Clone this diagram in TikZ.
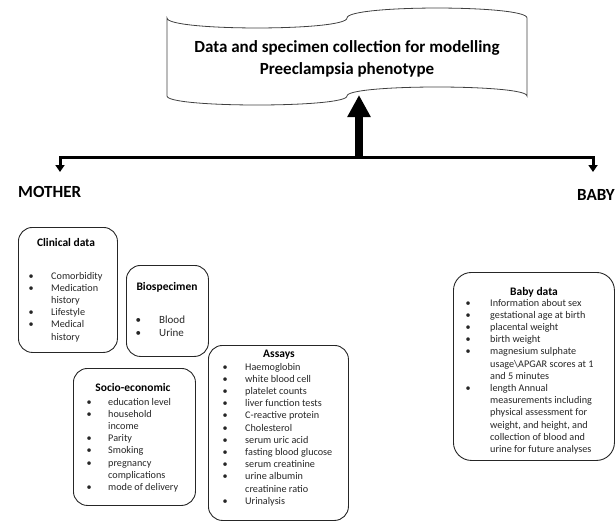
\documentclass[tikz,border=0pt]{standalone}
\usepackage{fontspec}
\setmainfont{Carlito}
\usetikzlibrary{arrows.meta}
\definecolor{txt}{gray}{0.15}
\tikzset{
  box/.style={draw=black!85, line width=0.9pt, rounded corners=14pt, inner sep=0pt, anchor=north west},
  ttl/.style={font=\fontsize{11.5}{14}\selectfont\bfseries, anchor=base, inner sep=0pt},
  lst/.style={font=\fontsize{10.2}{12.2}\selectfont, text=txt, anchor=base west, inner sep=0pt},
  lstb/.style={font=\fontsize{11}{13}\selectfont, text=txt, anchor=base west, inner sep=0pt},
  big/.style={font=\fontsize{17}{20}\selectfont\bfseries, anchor=base west, inner sep=0pt},
  scroll/.style={draw=black!75, line width=0.8pt},
  hline/.style={line width=3pt, line join=miter, {Triangle[width=9pt,length=7pt]}-{Triangle[width=9pt,length=7pt]}},
  uparrow/.style={line width=8pt, -{Triangle[width=22pt,length=22pt]}},
}
\newcommand{\bu}[1]{\makebox[#1][l]{•}}
\newcommand{\ind}[1]{\hspace*{#1}}
\begin{document}
\begin{tikzpicture}[x=1pt,y=-1pt]
\useasboundingbox (0,0) rectangle (615,522);
% scroll
\draw[scroll] (167,18) .. controls (167,31.3) and (347,31.3) .. (347,18)
  .. controls (347,4.7) and (527,4.7) .. (527,18) -- (527,96)
  .. controls (527,84) and (347,84) .. (347,96)
  .. controls (347,108) and (167,108) .. (167,96) -- cycle;
\node[font=\fontsize{17}{22}\selectfont\bfseries, align=center, inner sep=0pt] (title) at (347,58.5)
  {Data and specimen collection for modelling\\Preeclampsia phenotype};
% arrows
\coordinate (stem) at (359,157);
\coordinate (tip) at (359,95);
\draw[uparrow] (stem) -- (tip);
\coordinate (mtip) at (60,172);
\coordinate (ml) at (60,157);
\coordinate (mr) at (593,157);
\coordinate (btip) at (593,172);
\draw[hline] (mtip) -- (ml) -- (mr) -- (btip);
\node[big] (mother) at (18,197.5) {MOTHER};
\node[big] (baby) at (577,200.5) {BABY};
% clinical
\node[box, minimum width=99pt, minimum height=125pt] (clin) at (18,227) {};
\node[ttl] (clint) at (66,246.5) {Clinical data};
\node[lst] (clinl) at (28.5,279) {\begin{tabular}[t]{@{}l@{}}
\bu{22.5pt}Comorbidity\\
\bu{22.5pt}Medication\\
\ind{22.5pt}history\\
\bu{22.5pt}Lifestyle\\
\bu{22.5pt}Medical\\
\ind{22.5pt}history
\end{tabular}};
% biospecimen
\node[box, minimum width=82pt, minimum height=91pt] (bio) at (126,265) {};
\node[ttl] (biot) at (167,290.5) {Biospecimen};
\node[lstb] (biol) at (135.5,323.5) {\begin{tabular}[t]{@{}l@{}}
\bu{23.5pt}Blood\\
\bu{23.5pt}Urine
\end{tabular}};
% socio
\node[box, minimum width=122pt, minimum height=137pt] (soc) at (73,368) {};
\node[ttl] (soct) at (133,391.5) {Socio-economic};
\node[lst] (socl) at (86.5,405) {\begin{tabular}[t]{@{}l@{}}
\bu{21.5pt}education level\\
\bu{21.5pt}household\\
\ind{21.5pt}income\\
\bu{21.5pt}Parity\\
\bu{21.5pt}Smoking\\
\bu{21.5pt}pregnancy\\
\ind{21.5pt}complications\\
\bu{21.5pt}mode of delivery
\end{tabular}};
% assays
\node[box, minimum width=140pt, minimum height=175pt] (ass) at (208,345) {};
\node[ttl] (asst) at (279,357.5) {Assays};
\node[lst] (assl) at (222.5,370) {\begin{tabular}[t]{@{}l@{}}
\bu{22.5pt}Haemoglobin\\
\bu{22.5pt}white blood cell\\
\bu{22.5pt}platelet counts\\
\bu{22.5pt}liver function tests\\
\bu{22.5pt}C-reactive protein\\
\bu{22.5pt}Cholesterol\\
\bu{22.5pt}serum uric acid\\
\bu{22.5pt}fasting blood glucose\\
\bu{22.5pt}serum creatinine\\
\bu{22.5pt}urine albumin\\
\ind{22.5pt}creatinine ratio\\
\bu{22.5pt}Urinalysis
\end{tabular}};
% baby
\node[box, rounded corners=18pt, minimum width=161pt, minimum height=188pt] (bab) at (453,272) {};
\node[ttl] (babt) at (534,295.5) {Baby data};
\node[lst] (babl) at (465.5,306) {\begin{tabular}[t]{@{}l@{}}
\bu{24.5pt}Information about sex\\
\bu{24.5pt}gestational age at birth\\
\bu{24.5pt}placental weight\\
\bu{24.5pt}birth weight\\
\bu{24.5pt}magnesium sulphate\\
\ind{24.5pt}usage\textbackslash APGAR scores at 1\\
\ind{24.5pt}and 5 minutes\\
\bu{24.5pt}length Annual\\
\ind{24.5pt}measurements including\\
\ind{24.5pt}physical assessment for\\
\ind{24.5pt}weight, and height, and\\
\ind{24.5pt}collection of blood and\\
\ind{24.5pt}urine for future analyses
\end{tabular}};
\end{tikzpicture}
\end{document}
